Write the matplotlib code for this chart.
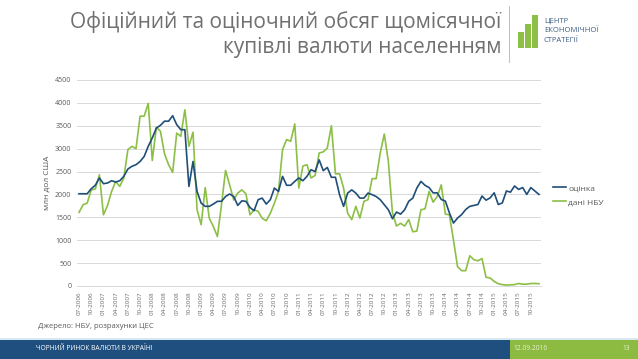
import matplotlib
matplotlib.use("Agg")
import matplotlib.pyplot as plt
from matplotlib.patches import Rectangle
from matplotlib.lines import Line2D
import pandas as pd

# monthly series, 07-2006 .. 12-2015, mln USD
estimate = [
    2015, 2015, 2015, 2125, 2200, 2360, 2235, 2250, 2300, 2270, 2300, 2395,
    2555, 2615, 2650, 2720, 2830, 3050, 3235, 3450, 3510, 3600, 3600, 3720,
    3525, 3415, 3415, 2175, 2720, 2065, 1810, 1740, 1740, 1790, 1850, 1850,
    1955, 2010, 1955, 1760, 1860, 1850, 1715, 1645, 1885, 1920, 1790, 1885,
    2140, 2065, 2395, 2200, 2200, 2285, 2360, 2300, 2395, 2540, 2500, 2755,
    2520, 2590, 2375, 2375, 1995, 1740, 2030, 2100, 2030, 1920, 1920, 2030,
    1995, 1955, 1885, 1775, 1665, 1470, 1615, 1570, 1665, 1850, 1920, 2140,
    2285, 2200, 2150, 2035, 2035, 1890, 1855, 1595, 1375, 1485, 1560, 1670,
    1740, 1760, 1780, 1965, 1875, 1925, 2035, 1780, 1815, 2075, 2050, 2185,
    2110, 2150, 2000, 2150, 2075, 2000,
]
nbu = [
    1610, 1775, 1810, 2100, 2120, 2430, 1555, 1760, 2065, 2285, 2175, 2360,
    2980, 3050, 3000, 3710, 3710, 3990, 2740, 3470, 3380, 2890, 2650, 2480,
    3340, 3270, 3850, 3050, 3360, 1665, 1340, 2150, 1480, 1300, 1080, 1775,
    2525, 2210, 1880, 2030, 2100, 2015, 1555, 1665, 1630, 1480, 1425, 1590,
    1810, 2065, 2980, 3200, 3160, 3540, 2140, 2620, 2650, 2360, 2415, 2905,
    2930, 3015, 3500, 2450, 2450, 2140, 1590, 1450, 1740, 1485, 1850, 1885,
    2345, 2345, 2905, 3320, 2720, 1600, 1310, 1370, 1310, 1450, 1185, 1200,
    1665, 1685, 2065, 1830, 1955, 2210, 1570, 1555, 1000, 420, 335, 335,
    660, 575, 550, 600, 190, 175, 100, 50, 30, 20, 25, 30,
    55, 40, 40, 55, 55, 50,
]
months = pd.date_range("2006-07-01", periods=len(nbu), freq="MS").strftime("%m-%Y").tolist()
yticks = [0, 500, 1000, 1500, 2000, 2500, 3000, 3500, 4000, 4500]

BLUE = "#1f4e79"
GREEN = "#8cbf45"
GREY = "#595959"

plt.rcParams["font.family"] = ["Open Sans", "DejaVu Sans"]

W, H = 638, 359
fig = plt.figure(figsize=(W / 100, H / 100), dpi=100)
fig.patch.set_facecolor("white")


def fx(px):
    return px / W


def fy(py):
    return 1 - py / H


ax = fig.add_axes([fx(77), fy(286), fx(541) - fx(77), fy(80) - fy(286)])
x = list(range(len(nbu)))
ax.plot(x, estimate, color=BLUE, lw=1.2, label="оцінка", zorder=3)
ax.plot(x, nbu, color=GREEN, lw=1.2, label="дані НБУ", zorder=2)

ax.set_xlim(-0.5, len(nbu) - 0.5)
ax.set_ylim(0, 4500)
ax.set_yticks(yticks)
ax.set_yticklabels([str(v) for v in yticks], fontsize=5, color=GREY)
ax.set_xticks(x[::3])
ax.set_xticklabels(months[::3], rotation=90, fontsize=4.5, color="#6a6a6a")
ax.tick_params(axis="both", length=0, pad=4)
ax.grid(axis="y", color="#d9d9d9", lw=0.7)
ax.set_axisbelow(True)
for s in ["top", "right", "left"]:
    ax.spines[s].set_visible(False)
ax.spines["bottom"].set_color("#d9d9d9")
ax.spines["bottom"].set_linewidth(0.7)
ax.set_ylabel("млн дол США", fontsize=6, color=GREY, labelpad=3)

ax.legend(loc="center left", bbox_to_anchor=(1.01, 0.44), frameon=False,
          fontsize=6, handlelength=1.6, handletextpad=0.2, labelspacing=0.75,
          labelcolor=GREY)

# title
fig.text(fx(501), fy(22), "Офіційний та оціночний обсяг щомісячної",
         ha="right", va="center", fontsize=15, color="#707070")
fig.text(fx(501), fy(47), "купівлі валюти населенням",
         ha="right", va="center", fontsize=15, color="#707070")

# logo
fig.add_artist(Line2D([fx(509), fx(509)], [fy(6), fy(62)], color="#bfbfbf", lw=0.7))
for x0, top in [(518, 32), (525, 24), (532, 15)]:
    fig.add_artist(Rectangle((fx(x0), fy(48)), fx(6), fy(top) - fy(48),
                             color=GREEN, lw=0))
for i, t in enumerate(["ЦЕНТР", "ЕКОНОМІЧНОЇ", "СТРАТЕГІЇ"]):
    fig.text(fx(544), fy(21 + 10 * i), t, ha="left", va="center",
             fontsize=5.5, color="#3b5f84")

# source
fig.text(fx(38), fy(326), "Джерело: НБУ, розрахунки ЦЕС", ha="left",
         va="center", fontsize=5.5, color=GREY)

# footer band
fig.add_artist(Rectangle((0, 0), fx(510), fy(340), color="#1e4f7f", lw=0))
fig.add_artist(Rectangle((fx(510), 0), 1 - fx(510), fy(340), color="#8dba41", lw=0))
fig.add_artist(Rectangle((0, fy(340)), 1, fy(338) - fy(340), color="#d7e8f3", lw=0))
fig.text(fx(36), fy(349), "ЧОРНИЙ РИНОК ВАЛЮТИ В УКРАЇНІ", ha="left",
         va="center", fontsize=4.8, color="white")
fig.text(fx(513), fy(349), "12.09.2016", ha="left", va="center",
         fontsize=4.8, color="#e8f2d8")
fig.text(fx(630), fy(349), "13", ha="right", va="center",
         fontsize=4.8, color="#e8f2d8")

fig.savefig("out.png", dpi=100)
